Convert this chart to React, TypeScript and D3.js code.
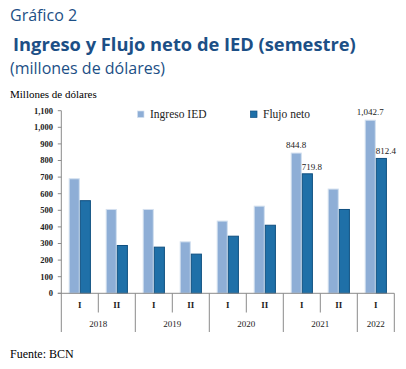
import React from 'react';
import * as d3 from 'd3';

const semesters = ['I', 'II', 'I', 'II', 'I', 'II', 'I', 'II', 'I'];
const years = ['2018', '2019', '2020', '2021', '2022'];
const yearSpans = [2, 2, 2, 2, 1];
const series = ['Ingreso IED', 'Flujo neto'];
const ingreso = [690, 505, 505, 310, 435, 525, 844.8, 628, 1042.7];
const flujo = [558, 288, 278, 236, 344, 410, 719.8, 505, 812.4];
const labelled = [6, 8];
const yTicks = d3.range(0, 1101, 100);

const W = 406;
const H = 369;
const serif = '"Liberation Serif", "DejaVu Serif", serif';
const sans = '"Open Sans", "Noto Sans", sans-serif';
const titleColor = '#1c4f86';
const colors = ['#8eaed6', '#1f70a8'];
const strokes = ['#d3e0ef', '#0f4f80'];
const axisColor = '#8a8a8a';

export default function App() {
  const left = 61.3;
  const right = 394.3;
  const y = d3.scaleLinear().domain([0, 1100]).range([293.3, 110.7]);
  const x0 = d3.scaleBand<number>().domain(d3.range(semesters.length)).range([left, right]);
  const bw = x0.bandwidth();
  const x1 = d3.scaleBand<string>().domain(series).range([bw * 0.2, bw * 0.8]);
  const fmt = d3.format(',');
  const fmtLabel = d3.format(',.1f');
  const y0 = y(0);

  // year boundaries
  let acc = 0;
  const yearBounds = [0];
  yearSpans.forEach(s => { acc += s; yearBounds.push(acc); });
  const edge = (i: number) => (i >= semesters.length ? right : (x0(i) as number));

  return (
    <svg width={W} height={H} style={{ position: 'absolute', left: 0, top: 0 }}>
      <rect width={W} height={H} fill="#fff" />
      <text x={10} y={21} fontFamily={sans} fontSize={16} fill={titleColor}>Gráfico 2</text>
      <text x={13} y={51} fontFamily={sans} fontSize={18.3} fontWeight="bold" fill={titleColor}>
        Ingreso y Flujo neto de IED (semestre)
      </text>
      <text x={10} y={74} fontFamily={sans} fontSize={16} fill={titleColor}>(millones de dólares)</text>
      <text x={10} y={98} fontFamily={serif} fontSize={11} fill="#000">Millones de dólares</text>

      {/* y axis */}
      <line x1={left} x2={left} y1={y(1100)} y2={y0} stroke={axisColor} />
      {yTicks.map(t => (
        <g key={t}>
          <line x1={left - 3.5} x2={left} y1={y(t)} y2={y(t)} stroke={axisColor} />
          <text x={53} y={y(t)} dy="0.35em" textAnchor="end" fontFamily={serif} fontSize={8.5}
            fontWeight="bold" fill="#222">{fmt(t)}</text>
        </g>
      ))}

      {/* bars */}
      {semesters.map((_, i) => {
        const vals = [ingreso[i], flujo[i]];
        return (
          <g key={i} transform={`translate(${x0(i)},0)`}>
            {series.map((s, k) => (
              <rect key={s} x={(x1(s) as number) + 0.5} y={y(vals[k])} width={x1.bandwidth() - 1}
                height={y0 - y(vals[k])} fill={colors[k]} stroke={strokes[k]} strokeWidth={1} />
            ))}
            {labelled.includes(i) && (
              <>
                <text x={(x1(series[0]) as number) + x1.bandwidth() / 2} y={y(vals[0]) - 5}
                  textAnchor="middle" fontFamily={serif} fontSize={9} fill="#222">{fmtLabel(vals[0])}</text>
                <text x={(x1(series[1]) as number)} y={y(vals[1]) - 4}
                  textAnchor="start" fontFamily={serif} fontSize={9} fill="#222">{fmtLabel(vals[1])}</text>
              </>
            )}
          </g>
        );
      })}

      {/* x axis */}
      <line x1={left - 3.5} x2={right} y1={y0} y2={y0} stroke={axisColor} />
      {semesters.map((s, i) => (
        <text key={i} x={(x0(i) as number) + bw / 2} y={308} textAnchor="middle" fontFamily={serif}
          fontSize={9} fontWeight="bold" fill="#222">{s}</text>
      ))}
      {d3.range(semesters.length + 1).map(i => {
        const isYear = yearBounds.includes(i);
        return (
          <line key={i} x1={edge(i)} x2={edge(i)} y1={y0} y2={isYear ? 332 : 312.5} stroke={axisColor} />
        );
      })}
      {years.map((yr, j) => {
        const a = edge(yearBounds[j]);
        const b = edge(yearBounds[j + 1]);
        return (
          <text key={yr} x={(a + b) / 2} y={327} textAnchor="middle" fontFamily={serif} fontSize={9}
            fill="#222">{yr}</text>
        );
      })}

      {/* legend */}
      {series.map((s, k) => (
        <g key={s} transform={`translate(${k === 0 ? 137.5 : 250.5},0)`}>
          <rect x={0} y={111} width={6.5} height={6.5} fill={colors[k]} stroke={strokes[k]} strokeWidth={0.7} />
          <text x={12.5} y={118} fontFamily={serif} fontSize={11.5} fill="#222">{s}</text>
        </g>
      ))}

      <text x={10} y={358} fontFamily={serif} fontSize={12} fill="#000">Fuente: BCN</text>
    </svg>
  );
}
